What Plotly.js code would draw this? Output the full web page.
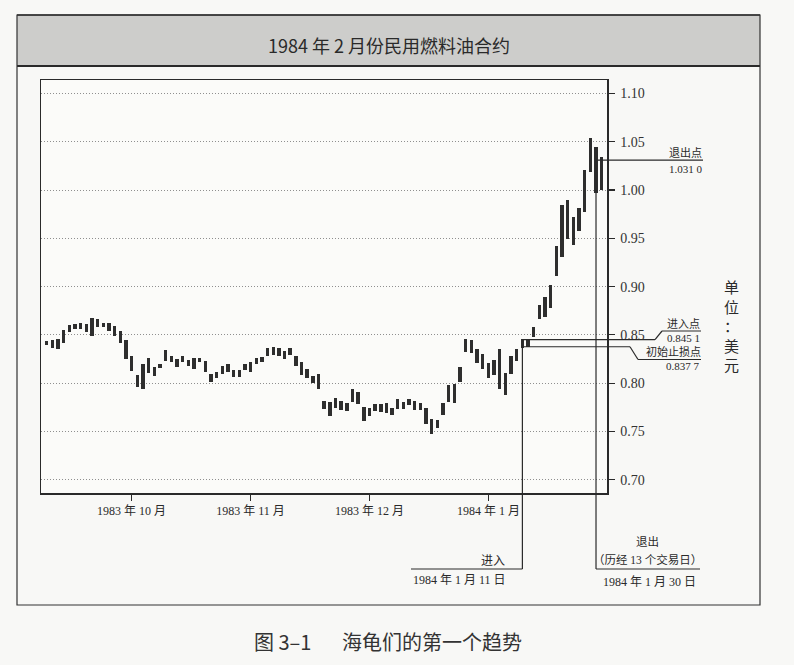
<!DOCTYPE html>
<html>
<head>
<meta charset="utf-8">
<script src="https://cdn.plot.ly/plotly-3.0.1.min.js"></script>
<style>
  html, body { margin: 0; padding: 0; background: #f8f8f6; }
  #chart { width: 794px; height: 665px; }
</style>
</head>
<body>
<div id="chart"></div>
<script>
// ---- data ----
const tradeDates = [
  "1983-09-12","1983-09-13","1983-09-14","1983-09-15","1983-09-16","1983-09-19","1983-09-20","1983-09-21","1983-09-22","1983-09-23",
  "1983-09-26","1983-09-27","1983-09-28","1983-09-29","1983-09-30",
  "1983-10-03","1983-10-04","1983-10-05","1983-10-06","1983-10-07","1983-10-10","1983-10-11","1983-10-12","1983-10-13","1983-10-14",
  "1983-10-17","1983-10-18","1983-10-19","1983-10-20","1983-10-21","1983-10-24","1983-10-25","1983-10-26","1983-10-27","1983-10-28","1983-10-31",
  "1983-11-01","1983-11-02","1983-11-03","1983-11-04","1983-11-07","1983-11-08","1983-11-09","1983-11-10","1983-11-11","1983-11-14",
  "1983-11-15","1983-11-16","1983-11-17","1983-11-18","1983-11-21","1983-11-22","1983-11-23","1983-11-25","1983-11-28","1983-11-29","1983-11-30",
  "1983-12-01","1983-12-02","1983-12-05","1983-12-06","1983-12-07","1983-12-08","1983-12-09","1983-12-12","1983-12-13","1983-12-14",
  "1983-12-15","1983-12-16","1983-12-19","1983-12-20","1983-12-21","1983-12-22","1983-12-23","1983-12-27","1983-12-28","1983-12-29","1983-12-30",
  "1984-01-03","1984-01-04","1984-01-05","1984-01-06","1984-01-09","1984-01-10","1984-01-11","1984-01-12","1984-01-13","1984-01-16",
  "1984-01-17","1984-01-18","1984-01-19","1984-01-20","1984-01-23","1984-01-24","1984-01-25","1984-01-26","1984-01-27","1984-01-30","1984-01-31"
];
const highs = [
  0.8437,0.8447,0.8457,0.8550,0.8602,0.8613,0.8620,0.8613,0.8671,0.8661,
  0.8626,0.8626,0.8592,0.8540,0.8447,0.8281,0.8085,0.8195,0.8257,0.8164,
  0.8195,0.8344,0.8281,0.8247,0.8281,0.8240,0.8257,0.8257,0.8233,0.8095,
  0.8119,0.8178,0.8195,0.8137,0.8137,0.8195,0.8223,0.8257,0.8275,0.8361,
  0.8371,0.8361,0.8333,0.8361,0.8282,0.8223,0.8144,0.8075,0.8092,0.7816,
  0.7809,0.7843,0.7819,0.7792,0.7937,0.7912,0.7757,0.7747,0.7785,0.7785,
  0.7799,0.7747,0.7833,0.7809,0.7840,0.7816,0.7799,0.7747,0.7626,0.7619,
  0.7792,0.7982,0.7992,0.8171,0.8458,0.8447,0.8351,0.8302,0.8206,0.8240,
  0.8351,0.8109,0.8282,0.8354,0.8455,0.8451,0.8586,0.8810,0.8896,0.9017,
  0.9421,0.9845,0.9897,0.9724,0.9810,1.0207,1.0535,1.0449,1.0338
];
const lows = [
  0.8395,0.8361,0.8354,0.8412,0.8533,0.8557,0.8561,0.8533,0.8492,0.8578,
  0.8585,0.8544,0.8488,0.8412,0.8247,0.8130,0.7957,0.7936,0.8109,0.8074,
  0.8154,0.8230,0.8216,0.8171,0.8216,0.8181,0.8147,0.8216,0.8112,0.8009,
  0.8057,0.8095,0.8112,0.8061,0.8061,0.8137,0.8119,0.8195,0.8216,0.8282,
  0.8292,0.8282,0.8247,0.8292,0.8178,0.8085,0.8057,0.7999,0.7937,0.7730,
  0.7661,0.7740,0.7723,0.7712,0.7809,0.7785,0.7609,0.7664,0.7716,0.7699,
  0.7688,0.7668,0.7730,0.7732,0.7774,0.7726,0.7723,0.7575,0.7474,0.7540,
  0.7671,0.7809,0.7792,0.8016,0.8326,0.8309,0.8206,0.8144,0.8050,0.8085,
  0.7937,0.7878,0.8095,0.8233,0.8360,0.8377,0.8482,0.8662,0.8682,0.8775,
  0.9110,0.9303,0.9489,0.9431,0.9579,0.9776,1.0190,0.9966,1.0000
];
const monthTickDates = ["1983-10-03","1983-11-01","1983-12-01","1984-01-03"];
const monthTickLabels = ["1983 年 10 月","1983 年 11 月","1983 年 12 月","1984 年 1 月"];
const priceTicks = [0.70,0.75,0.80,0.85,0.90,0.95,1.00,1.05,1.10];
const entryDate = "1984-01-11", exitDate = "1984-01-30";
const entryPrice = 0.8451, stopPrice = 0.8377, exitPrice = 1.0310;
const tradeDays = 13;

// ---- layout geometry ----
const L = 41, T = 80, W = 566, H = 413;
const X0 = -1.0, X1 = 98.94, Y0 = 0.6863, Y1 = 1.1139;
const FL = 17, FR = 760, FT = 15, FB = 605, BAND = 66;
const px = p => (p - L) / W;
const py = p => (T + H - p) / H;
const dx = i => (i - X0) / (X1 - X0);
const dy = v => (v - Y0) / (Y1 - Y0);
const fmt4 = v => { const s = v.toFixed(4); return s.slice(0, -1) + " " + s.slice(-1); };

const serif = "Liberation Serif, Noto Sans CJK SC, serif";
const cjk = "Noto Sans CJK SC, sans-serif";
const ink = "#2a2a2a";

const ranges = highs.map((h, i) => h - lows[i]);
const trace = {
  type: "bar", x: tradeDates, y: ranges, base: lows,
  width: 0.6, marker: { color: "#2e2e2e", line: { width: 0 } },
  hoverinfo: "skip"
};

const eI = tradeDates.indexOf(entryDate), xI = tradeDates.indexOf(exitDate);
const ln = (x0, y0, x1, y1, w) => ({ type: "line", xref: "paper", yref: "paper", x0, y0, x1, y1, line: { color: ink, width: w || 1.2 } });

const shapes = [
  { type: "rect", xref: "paper", yref: "paper", x0: px(FL), x1: px(FR), y0: py(BAND), y1: py(FT), fillcolor: "#cdcdcb", line: { width: 0 }, layer: "below" },
  ln(px(FL), py(FT), px(FR), py(FT), 1.5),
  ln(px(FL), py(BAND), px(FR), py(BAND), 2),
  { type: "rect", xref: "paper", yref: "paper", x0: px(FL), x1: px(FR), y0: py(FB), y1: py(FT), line: { color: "#333", width: 1.2 } },
  // exit
  ln(dx(xI), dy(exitPrice), px(703), dy(exitPrice)),
  ln(dx(xI), dy(exitPrice), dx(xI), py(569)),
  ln(dx(xI), py(569), px(700), py(569)),
  // entry
  ln(dx(eI), dy(entryPrice), dx(eI), py(569)),
  ln(px(411), py(569), dx(eI), py(569)),
  ln(dx(eI), dy(entryPrice), px(655), dy(entryPrice)),
  ln(px(655), dy(entryPrice), px(662), py(331)),
  ln(px(662), py(331), px(701), py(331)),
  // stop
  ln(dx(eI), dy(stopPrice), px(630), dy(stopPrice)),
  ln(px(630), dy(stopPrice), px(638), py(359.5)),
  ln(px(638), py(359.5), px(701), py(359.5))
];

const ann = (text, x, y, size, fam, extra) => Object.assign({
  text, xref: "paper", yref: "paper", x: px(x), y: py(y), xanchor: "center", yanchor: "middle",
  showarrow: false, font: { family: fam || serif, size: size || 12, color: ink }
}, extra || {});

const annotations = [
  ann("1984 年 2 月份民用燃料油合约", 389, 45, 18, cjk),
  ann("图 3–1", 282, 641, 20, cjk, { font: { family: cjk, size: 20, color: "#333" } }),
  ann("海龟们的第一个趋势", 432, 641, 20, cjk, { font: { family: cjk, size: 20, color: "#333" } }),
  ann("退出点", 685, 152, 11, cjk),
  ann(fmt4(exitPrice), 686, 169, 11),
  ann("进入点", 683, 323, 11, cjk),
  ann(fmt4(entryPrice), 683, 338, 11),
  ann("初始止损点", 673, 351, 11, cjk),
  ann(fmt4(stopPrice), 683, 366, 11),
  ann("单<br>位<br>：<br>美<br>元", 731, 325, 15, cjk),
  ann("进入", 493, 559, 12, cjk),
  ann("1984 年 1 月 11 日", 459, 580, 12),
  ann("退出", 647, 541, 11.5, cjk),
  ann("（历经 " + tradeDays + " 个交易日）", 647, 559, 11.5),
  ann("1984 年 1 月 30 日", 649, 582, 12)
];

const layout = {
  width: 794, height: 665,
  margin: { l: L, r: 794 - L - W, t: T, b: 665 - T - H, pad: 0 },
  paper_bgcolor: "#f8f8f6", plot_bgcolor: "#fbfbf9",
  showlegend: false, bargap: 0,
  xaxis: {
    type: "category", range: [X0, X1], tickmode: "array",
    tickvals: monthTickDates, ticktext: monthTickLabels,
    ticks: "outside", ticklen: 6, tickcolor: ink, tickwidth: 1.2,
    showgrid: false, showline: true, mirror: true, linecolor: ink, linewidth: 1.5,
    tickfont: { family: serif, size: 12, color: ink }, fixedrange: true
  },
  yaxis: {
    side: "right", range: [Y0, Y1], tickmode: "array", tickvals: priceTicks,
    tickformat: ".2f", ticks: "outside", ticklen: 6, tickcolor: ink, tickwidth: 1.2,
    showgrid: true, gridcolor: "#8f8f8f", griddash: "1px,2px", gridwidth: 1,
    zeroline: false, showline: true, mirror: true, linecolor: ink, linewidth: 1.5,
    tickfont: { family: serif, size: 14, color: "#333" }, ticklabelstandoff: 3, fixedrange: true
  },
  shapes, annotations
};

Plotly.newPlot("chart", [trace], layout, { staticPlot: true, displayModeBar: false });
</script>
</body>
</html>
